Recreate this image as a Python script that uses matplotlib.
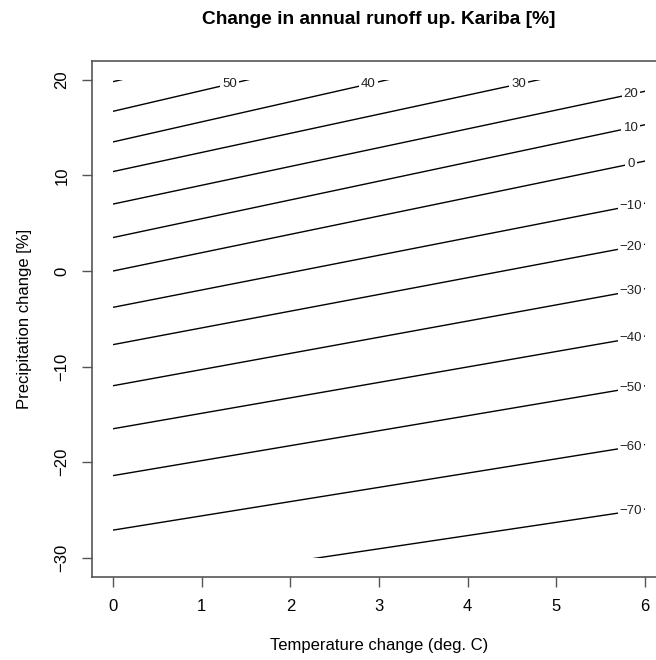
import numpy as np
import matplotlib
matplotlib.use('Agg')
import matplotlib.pyplot as plt
from matplotlib.patches import Rectangle

plt.rcParams['font.family'] = ['Liberation Sans', 'DejaVu Sans']

# contour levels (change in annual runoff, %)
levels = [60, 50, 40, 30, 20, 10, 0, -10, -20, -30, -40, -50, -60, -70]
# precipitation change where each contour crosses T=0 and T=6
p_at_t0 = [19.8, 16.7, 13.5, 10.4, 7.0, 3.5, 0.0, -3.8, -7.7, -12.0, -16.5, -21.4, -27.1, -33.2]
p_at_t6 = [33.0, 29.7, 26.1, 22.4, 18.8, 15.3, 11.5, 7.1, 2.8, -1.85, -6.8, -12.0, -18.15, -24.9]

t_range = [0, 6]
p_range = [-30, 20]
x_ticks = [0, 1, 2, 3, 4, 5, 6]
y_ticks = [-30, -20, -10, 0, 10, 20]

fig = plt.figure(figsize=(6.56, 6.60), dpi=100)
ax = fig.add_axes([0.1398, 0.1258, 0.876, 0.7823])

# data region used for clipping the contour lines
clip = Rectangle((t_range[0], p_range[0]), t_range[1] - t_range[0], p_range[1] - p_range[0],
                 transform=ax.transData, facecolor='none', edgecolor='none')

for lev, p0, p6 in zip(levels, p_at_t0, p_at_t6):
    ln, = ax.plot(t_range, [p0, p6], color='black', lw=1.0, solid_capstyle='butt')
    ln.set_clip_path(clip)
    slope = (p6 - p0) / (t_range[1] - t_range[0])
    # where does the line leave through the top?
    t_top = (p_range[1] - p0) / slope
    if t_top < 0.5:
        continue
    t_lab = min(5.84, (19.55 - p0) / slope)
    p_lab = p0 + slope * t_lab
    ax.text(t_lab, p_lab, ('%d' % lev).replace('-', '\u2212'), fontsize=9.5,
            ha='center', va='center', color='#222222',
            bbox=dict(boxstyle='square,pad=0.15', facecolor='white', edgecolor='none'))

ax.set_xlim(-0.24, 6.24)
ax.set_ylim(-32, 22)
ax.set_xticks(x_ticks)
ax.set_yticks(y_ticks)
ax.set_xticklabels([str(v) for v in x_ticks])
ax.set_yticklabels([str(v).replace('-', '\u2212') for v in y_ticks], rotation=90, va='center')
ax.tick_params(axis='both', direction='out', length=7, width=1.0, color='#555555',
               labelsize=12, pad=9)
for s in ax.spines.values():
    s.set_color('#555555')
    s.set_linewidth(1.2)

ax.set_xlabel('Temperature change (deg. C)', fontsize=12, labelpad=17)
ax.set_ylabel('Precipitation change [%]', fontsize=12, labelpad=16)
fig.text(0.5 * (0.1398 + 0.1398 + 0.876), 1 - 20 / 660, 'Change in annual runoff up. Kariba [%]',
         ha='center', va='center', fontsize=13.8, fontweight='bold')

fig.savefig('out.png', dpi=100)
